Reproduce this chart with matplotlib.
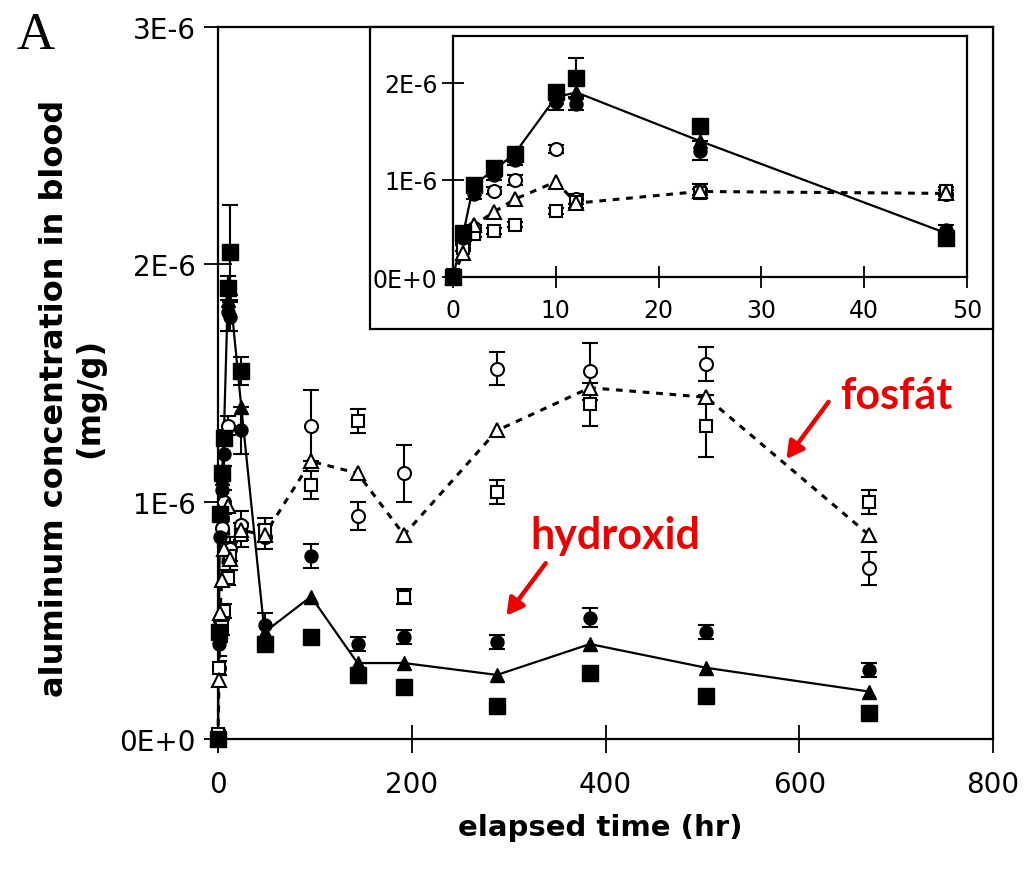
import matplotlib
matplotlib.use('Agg')
import matplotlib.pyplot as plt
from matplotlib.patches import Rectangle
import numpy as np

# time points (hr)
hours = [0, 1, 2, 4, 6, 10, 12, 24, 48, 96, 144, 192, 288, 384, 504, 672]

# hydroxid (filled symbols), values in 1E-6 mg/g
hyd_square = [0.0, 0.45, 0.95, 1.12, 1.27, 1.90, 2.05, 1.55, 0.40, 0.43, 0.27, 0.22, 0.14, 0.28, 0.18, 0.11]
hyd_square_err = [0.02, 0.03, 0.03, 0.03, 0.03, 0.05, 0.20, 0.06, 0.03, 0.0, 0.0, 0.0, 0.0, 0.0, 0.0, 0.0]
hyd_circle = [0.0, 0.40, 0.85, 1.05, 1.20, 1.80, 1.78, 1.30, 0.48, 0.77, 0.40, 0.43, 0.41, 0.51, 0.45, 0.29]
hyd_circle_err = [0.02, 0.05, 0.05, 0.05, 0.05, 0.08, 0.06, 0.10, 0.05, 0.05, 0.03, 0.03, 0.03, 0.04, 0.03, 0.03]
hyd_mean = [0.0, 0.45, 0.95, 1.10, 1.27, 1.85, 1.90, 1.40, 0.45, 0.60, 0.32, 0.32, 0.27, 0.40, 0.30, 0.20]

# fosfat (open symbols)
fos_circle = [0.02, 0.30, 0.50, 0.89, 1.00, 1.32, 0.80, 0.90, 0.85, 1.32, 0.94, 1.12, 1.56, 1.55, 1.58, 0.72]
fos_circle_err = [0.02, 0.03, 0.03, 0.04, 0.05, 0.04, 0.05, 0.06, 0.05, 0.15, 0.06, 0.12, 0.07, 0.12, 0.07, 0.07]
fos_square = [0.02, 0.30, 0.44, 0.47, 0.54, 0.68, 0.77, 0.86, 0.88, 1.07, 1.34, 0.60, 1.04, 1.41, 1.32, 1.00]
fos_square_err = [0.02, 0.03, 0.03, 0.03, 0.03, 0.03, 0.06, 0.05, 0.05, 0.06, 0.05, 0.03, 0.05, 0.09, 0.13, 0.05]
fos_mean = [0.0, 0.25, 0.53, 0.67, 0.80, 0.98, 0.76, 0.88, 0.86, 1.17, 1.12, 0.86, 1.30, 1.48, 1.44, 0.86]

main_yticks = [0, 1e-6, 2e-6, 3e-6]
main_yticklabels = ['0E+0', '1E-6', '2E-6', '3E-6']
main_xticks = [0, 200, 400, 600, 800]
inset_yticks = [0, 1e-6, 2e-6]
inset_yticklabels = ['0E+0', '1E-6', '2E-6']
inset_xticks = [0, 10, 20, 30, 40, 50]

plt.rcParams['font.family'] = ['DejaVu Sans']

E = 1e-6


def draw_data(ax, ms, xmax):
    t = np.array(hours, dtype=float)
    keep = t <= xmax
    t = t[keep]
    def v(a):
        return np.array(a)[keep] * E
    ax.plot(t, v(hyd_mean), color='black', lw=1.6, zorder=2, clip_on=False)
    ax.plot(t, v(fos_mean), color='black', lw=2.2, ls=(0, (2.2, 2.2)), zorder=2, clip_on=False)
    eb = dict(fmt='none', ecolor='black', elinewidth=1.5, capsize=ms * 0.55, capthick=1.5, zorder=3)
    ax.errorbar(t, v(fos_circle), yerr=v(fos_circle_err), **eb)
    ax.errorbar(t, v(fos_square), yerr=v(fos_square_err), **eb)
    ax.errorbar(t, v(hyd_circle), yerr=v(hyd_circle_err), **eb)
    ax.errorbar(t, v(hyd_square), yerr=v(hyd_square_err), **eb)
    ax.plot(t, v(fos_circle), 'o', ms=ms * 0.85, mfc='white', mec='black', mew=1.5, ls='none', zorder=4, clip_on=False)
    ax.plot(t, v(fos_square), 's', ms=ms * 0.85, mfc='white', mec='black', mew=1.5, ls='none', zorder=4, clip_on=False)
    ax.plot(t, v(fos_mean), '^', ms=ms * 0.9, mfc='white', mec='black', mew=1.5, ls='none', zorder=4, clip_on=False)
    ax.plot(t, v(hyd_circle), 'o', ms=ms * 0.85, color='black', ls='none', zorder=4, clip_on=False)
    ax.plot(t, v(hyd_square), 's', ms=ms, color='black', ls='none', zorder=4, clip_on=False)
    ax.plot(t, v(hyd_mean), '^', ms=ms * 0.9, color='black', ls='none', zorder=4, clip_on=False)


fig = plt.figure(figsize=(10.31, 8.70), dpi=100)
W, H = 1031.0, 870.0

ax = fig.add_axes([218 / W, 1 - 740 / H, (993 - 218) / W, (740 - 28) / H])
draw_data(ax, 11, 800)
ax.set_xlim(0, 800)
ax.set_ylim(0, 3e-6)
ax.set_xticks(main_xticks)
ax.set_yticks(main_yticks)
ax.set_yticklabels(main_yticklabels)
ax.tick_params(direction='inout', length=20, width=1.3, labelsize=20, color='black')
ax.tick_params(axis='y', pad=6)
ax.tick_params(axis='x', pad=12)
for s in ax.spines.values():
    s.set_linewidth(1.6)

fig.text(72 / W, 1 - 398 / H, 'aluminum concentration in blood\n(mg/g)', rotation=90,
         ha='center', va='center', fontsize=23, fontweight='bold', linespacing=1.2)
fig.text(600 / W, 1 - 828 / H, 'elapsed time (hr)', ha='center', va='center',
         fontsize=21, fontweight='bold')
fig.text(36 / W, 1 - 36 / H, 'A', ha='center', va='center', fontsize=38,
         family=['Liberation Serif', 'DejaVu Serif'])

# red notes
ax.text(700, 1.45e-6, 'fosfát', color='#ee0000', fontsize=31, fontweight='bold',
        ha='center', va='center', family=['Lato', 'DejaVu Sans'])
ax.text(410, 0.86e-6, 'hydroxid', color='#ee0000', fontsize=31, fontweight='bold',
        ha='center', va='center', family=['Lato', 'DejaVu Sans'])
arr = dict(arrowstyle='-|>,head_length=1.0,head_width=0.55', color='#ee0000', lw=3.2)
ax.annotate('', xy=(585, 1.17e-6), xytext=(632, 1.43e-6), arrowprops=arr)
ax.annotate('', xy=(296, 0.51e-6), xytext=(340, 0.75e-6), arrowprops=arr)

# inset frame
frame = Rectangle((370 / W, 1 - 330 / H), (993 - 370) / W, (330 - 28) / H,
                  transform=fig.transFigure, facecolor='white', edgecolor='black',
                  lw=1.6, zorder=5)
fig.add_artist(frame)

ins = fig.add_axes([453 / W, 1 - 278 / H, (967 - 453) / W, (278 - 37) / H])
ins.set_zorder(10)
draw_data(ins, 11, 50)
ins.set_xlim(0, 50)
ins.set_ylim(0, 2.48e-6)
ins.set_xticks(inset_xticks)
ins.set_yticks(inset_yticks)
ins.set_yticklabels(inset_yticklabels)
ins.tick_params(direction='inout', length=16, width=1.3, labelsize=17)
ins.tick_params(axis='x', pad=7)
ins.tick_params(axis='y', pad=3)
for s in ins.spines.values():
    s.set_linewidth(1.6)

fig.savefig('out.png', dpi=100)
